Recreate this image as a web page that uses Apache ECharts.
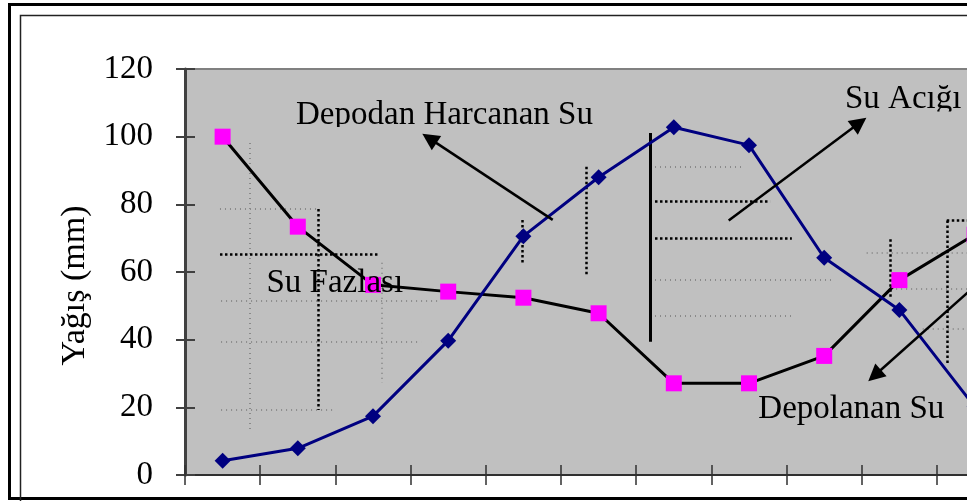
<!DOCTYPE html>
<html>
<head>
<meta charset="utf-8">
<script src="https://cdn.jsdelivr.net/npm/echarts@6/dist/echarts.min.js"></script>
<style>
  html, body { margin: 0; padding: 0; background: #fff; }
  #chart { width: 967px; height: 501px; }
</style>
</head>
<body>
<div id="chart"></div>
<script>
// Monthly water balance: precipitation vs. potential evapotranspiration (mm)
const months = ['Oca', 'Şub', 'Mar', 'Nis', 'May', 'Haz', 'Tem', 'Ağu', 'Eyl', 'Eki', 'Kas', 'Ara'];
const precipitation = [100, 73.4, 56.2, 54.2, 52.4, 47.8, 27.1, 27.1, 35.2, 57.6, 71, null];
const evapotranspiration = [4.2, 7.9, 17.4, 39.7, 70.6, 88.0, 102.8, 97.5, 64.2, 48.8, 20.2, null];
const yTicks = [0, 20, 40, 60, 80, 100, 120];

// Annotation geometry in data units: [month position, mm]
const arrowSegments = [
  [[4.39, 75.4], [2.75, 99.5]],    // Depodan Harcanan Su
  [[6.73, 75.2], [8.47, 104.1]],   // Su Acığı
  [[10.47, 65.1], [8.67, 29.4]]    // Depolanan Su
];
const greyHatch = [
  [[0.364, 98.1], [0.364, 13.3]],
  [[-0.035, 78.6], [1.269, 78.6]],
  [[-0.02, 51.6], [2.89, 51.6]],
  [[2.12, 62.7], [2.12, 27.2]],
  [[-0.02, 39.3], [2.64, 39.3]],
  [[-0.02, 19.2], [1.49, 19.2]],
  [[5.75, 91.1], [6.92, 91.1]],
  [[5.75, 57.6], [8.12, 57.6]],
  [[5.75, 47.0], [7.57, 47.0]],
  [[8.565, 65.7], [10.6, 65.7]],
  [[8.89, 55.0], [10.6, 55.0]],
  [[9.31, 43.2], [10.6, 43.2]]
];
const blackHatch = [
  [[1.273, 78.6], [1.273, 19.2]],
  [[-0.035, 65.3], [2.08, 65.3]],
  [[3.98, 75.4], [3.98, 62.1]],
  [[4.83, 91.1], [4.83, 59.1]],
  [[5.75, 81.0], [7.28, 81.0]],
  [[5.75, 70.0], [7.57, 70.0]],
  [[8.884, 69.7], [8.884, 52.7]],
  [[9.63, 75.2], [9.63, 32.5]],
  [[9.63, 75.2], [10.6, 75.2]]
];
const divider = [
  [[5.69, 101.1], [5.69, 39.4]]
];

const serif = '"Liberation Serif", "Times New Roman", serif';
const axisDark = '#404040';

const chart = echarts.init(document.getElementById('chart'), null, { renderer: 'canvas' });

const hatchSeries = (segs, color, width, dash, z) => {
  const style = { color: color, width: width, type: dash, opacity: 1 };
  return {
    type: 'lines',
    coordinateSystem: 'cartesian2d',
    xAxisIndex: 2,
    yAxisIndex: 0,
    polyline: false,
    silent: true,
    z: z,
    symbol: 'none',
    lineStyle: style,
    data: segs.map(c => ({ coords: c, lineStyle: style }))
  };
};

const arrowStyle = { color: '#000000', width: 2.5, opacity: 1 };

chart.setOption({
  animation: false,
  backgroundColor: '#ffffff',
  grid: {
    left: 185,
    top: 69,
    width: 902.4,
    height: 406,
    show: true,
    backgroundColor: '#C0C0C0',
    borderColor: '#808080',
    borderWidth: 2,
    containLabel: false,
    outerBoundsMode: 'none'
  },
  xAxis: [
    {
      type: 'category',
      data: months,
      position: 'bottom',
      boundaryGap: true,
      axisLine: { show: true, onZero: false, lineStyle: { color: '#303030', width: 2 } },
      axisTick: { show: true, inside: false, length: 10, interval: 0, lineStyle: { color: '#303030', width: 1.5 } },
      axisLabel: { show: false },
      splitLine: { show: false }
    },
    {
      type: 'category',
      data: months,
      position: 'bottom',
      boundaryGap: true,
      axisLine: { show: false, onZero: false },
      axisTick: { show: true, inside: true, length: 10, interval: 0, lineStyle: { color: '#303030', width: 1.5 } },
      axisLabel: { show: false },
      splitLine: { show: false }
    },
    {
      type: 'value',
      min: -0.5,
      max: 11.5,
      show: false,
      axisLine: { onZero: false },
      splitLine: { show: false }
    }
  ],
  yAxis: [
    {
      type: 'value',
      position: 'left',
      min: yTicks[0],
      max: yTicks[yTicks.length - 1],
      interval: yTicks[1] - yTicks[0],
      axisLine: { show: true, onZero: false, lineStyle: { color: axisDark, width: 3 } },
      axisTick: { show: true, inside: false, length: 9, lineStyle: { color: axisDark, width: 2 } },
      axisLabel: { show: true, margin: 32, fontSize: 33, fontFamily: serif, color: '#000' },
      splitLine: { show: false }
    },
    {
      type: 'value',
      position: 'left',
      min: yTicks[0],
      max: yTicks[yTicks.length - 1],
      interval: yTicks[1] - yTicks[0],
      axisLine: { show: false, onZero: false },
      axisTick: { show: true, inside: true, length: 10, lineStyle: { color: axisDark, width: 2 } },
      axisLabel: { show: false },
      splitLine: { show: false }
    }
  ],
  series: [
    hatchSeries(greyHatch, '#8a8a8a', 2, [1, 4], 1),
    hatchSeries(blackHatch, '#000000', 2.5, [2.5, 2.5], 1),
    hatchSeries(divider, '#000000', 3, 'solid', 1),
    {
      name: 'Yağış',
      type: 'line',
      xAxisIndex: 0,
      yAxisIndex: 0,
      data: precipitation,
      symbol: 'rect',
      symbolSize: 16,
      showSymbol: true,
      lineStyle: { color: '#000000', width: 3 },
      itemStyle: { color: '#FF00FF', borderWidth: 0 },
      z: 3
    },
    {
      name: 'Potansiyel Evapotranspirasyon',
      type: 'line',
      xAxisIndex: 0,
      yAxisIndex: 0,
      data: evapotranspiration,
      symbol: 'diamond',
      symbolSize: 16,
      showSymbol: true,
      lineStyle: { color: '#000080', width: 3 },
      itemStyle: { color: '#000080', borderWidth: 0 },
      z: 4
    },
    {
      type: 'lines',
      coordinateSystem: 'cartesian2d',
      xAxisIndex: 2,
      yAxisIndex: 0,
      silent: true,
      z: 5,
      symbol: ['none', 'triangle'],
      symbolSize: 17,
      lineStyle: arrowStyle,
      data: arrowSegments.map(c => ({ coords: c, lineStyle: arrowStyle }))
    }
  ],
  graphic: [
    {
      type: 'rect',
      z: 50,
      silent: true,
      shape: { x: 9.5, y: 4.5, width: 1100, height: 494 },
      style: { fill: 'none', stroke: '#000', lineWidth: 3 }
    },
    {
      type: 'rect',
      z: 50,
      silent: true,
      shape: { x: 20.5, y: 15.5, width: 1100, height: 1000 },
      style: { fill: 'none', stroke: '#222', lineWidth: 1.5 }
    },
    {
      type: 'text',
      z: 60,
      x: 75.5,
      y: 285.5,
      rotation: Math.PI / 2,
      style: { text: 'Yağış (mm)', font: '34px ' + serif, fill: '#000', align: 'center', verticalAlign: 'middle' }
    },
    {
      type: 'text',
      z: 60,
      x: 296,
      y: 115,
      style: { text: 'Depodan Harcanan Su', font: '33px ' + serif, fill: '#000', align: 'left', verticalAlign: 'middle' }
    },
    {
      type: 'rect',
      z: 61,
      silent: true,
      shape: { x: 290, y: 127, width: 310, height: 6 },
      style: { fill: '#C0C0C0' }
    },
    {
      type: 'text',
      z: 60,
      x: 845,
      y: 99,
      style: { text: 'Su Acığı', font: '33px ' + serif, fill: '#000', align: 'left', verticalAlign: 'middle' }
    },
    {
      type: 'rect',
      z: 61,
      silent: true,
      shape: { x: 840, y: 111.5, width: 130, height: 4 },
      style: { fill: '#C0C0C0' }
    },
    {
      type: 'text',
      z: 60,
      x: 266.5,
      y: 283.5,
      style: { text: 'Su Fazlası', font: '33px ' + serif, fill: '#000', align: 'left', verticalAlign: 'middle' }
    },
    {
      type: 'text',
      z: 60,
      x: 758.3,
      y: 409,
      style: { text: 'Depolanan Su', font: '33px ' + serif, fill: '#000', align: 'left', verticalAlign: 'middle' }
    }
  ]
});
</script>
</body>
</html>
